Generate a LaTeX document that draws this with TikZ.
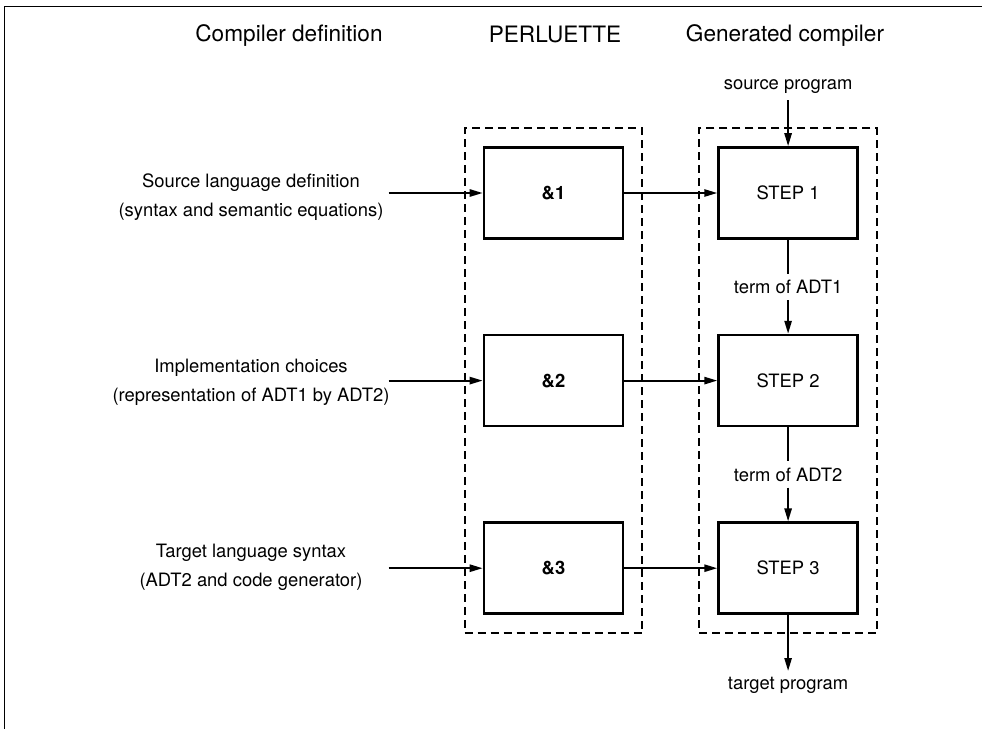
\documentclass[tikz,border=0pt]{standalone}
\usepackage{fontspec}
\setmainfont{TeX Gyre Heros}
\usetikzlibrary{positioning,fit,calc,arrows.meta}
\tikzstyle{block} = [draw, rectangle, line width=1.3pt, minimum width=69.5pt, minimum height=45.5pt, inner sep=0pt, font=\fontsize{9.2}{11}\selectfont]
\tikzstyle{note} = [align=center, inner sep=3pt, font=\fontsize{9.2}{14.5}\selectfont]
\tikzstyle{title} = [inner sep=0pt, font=\fontsize{11.3}{13}\selectfont]
\tikzstyle{group} = [draw, dash pattern=on 4pt off 2.5pt, line width=1pt, inner sep=9pt]
\tikzstyle{line} = [line width=1pt]

\begin{document}
\begin{tikzpicture}[x=0.5pt, y=-0.5pt, node distance=47pt, >={Triangle[length=6.5pt,width=3.6pt]}]
\useasboundingbox (0,0) rectangle (982,729);
\draw [line width=0.5pt] (982,6) -- (4,6) -- (4,729);
% column heads
\node (defhead) [title] at (289,36) {Compiler definition};
\node (perlhead) [title] at (555,34) {PERLUETTE};
\node (genhead) [title] at (785,36) {Generated compiler};
% PERLUETTE parts
\node (amp1) [block] at (553.5,193) {\textbf{\&1}};
\node (amp2) [block, below=of amp1] {\textbf{\&2}};
\node (amp3) [block, below=of amp2] {\textbf{\&3}};
\node (perl) [group, fit=(amp1)(amp3)] {};
% generated steps
\node (step1) [block, right=46.5pt of amp1] {STEP 1};
\node (step2) [block, right=46.5pt of amp2] {STEP 2};
\node (step3) [block, right=46.5pt of amp3] {STEP 3};
\node (gen) [group, fit=(step1)(step3)] {};
% definitions
\coordinate [left=47pt of amp1] (in1);
\coordinate [left=47pt of amp2] (in2);
\coordinate [left=47pt of amp3] (in3);
\node (srcdef) [note] at (251,197) {Source language definition\\(syntax and semantic equations)};
\node (impl) [note] at (251,382) {Implementation choices\\(representation of ADT1 by ADT2)};
\node (tgtdef) [note] at (251,567) {Target language syntax\\(ADT2 and code generator)};
\draw [->, line] (in1) -- (amp1);
\draw [->, line] (in2) -- (amp2);
\draw [->, line] (in3) -- (amp3);
\draw [->, line] (amp1) -- (step1);
\draw [->, line] (amp2) -- (step2);
\draw [->, line] (amp3) -- (step3);
% program flow
\node (srcprog) [note, above=23pt of step1] {source program};
\draw [->, line] (srcprog) -- (step1);
\node (term1) [note] at ($(step1.south)!0.5!(step2.north)$) {term of ADT1};
\draw [line] (step1) -- (term1);
\draw [->, line] (term1) -- (step2);
\node (term2) [note] at ($(step2.south)!0.5!(step3.north)$) {term of ADT2};
\draw [line] (step2) -- (term2);
\draw [->, line] (term2) -- (step3);
\node (tgtprog) [note, below=28pt of step3] {target program};
\draw [->, line] (step3) -- (tgtprog);
\end{tikzpicture}
\end{document}
